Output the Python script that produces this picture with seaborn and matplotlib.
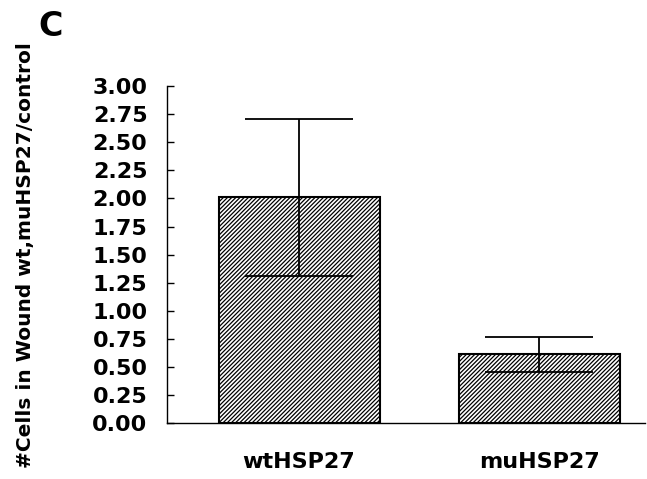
import pandas as pd
import seaborn as sns
import matplotlib.pyplot as plt

# values
groups = ['wtHSP27', 'muHSP27']
ratio = [2.01, 0.61]
err = [0.70, 0.16]

df = pd.DataFrame({'group': groups, 'ratio': ratio})

sns.set_style('ticks', {'axes.edgecolor': 'black', 'text.color': 'black',
                        'xtick.color': 'black', 'ytick.color': 'black',
                        'axes.labelcolor': 'black'})
plt.rcParams['font.family'] = ['DejaVu Sans']
plt.rcParams['font.weight'] = 'bold'
plt.rcParams['hatch.linewidth'] = 0.9

fig = plt.figure(figsize=(6.47, 4.79), dpi=100)
ax = fig.add_axes([0.258, 0.117, 0.739, 0.703])

sns.barplot(data=df, x='group', y='ratio', color='white', edgecolor='black',
            linewidth=1.5, width=0.67, errorbar=None, ax=ax)
for p in ax.patches:
    p.set_hatch('////////')

# error bars drawn from the bar centres
centers = [p.get_x() + p.get_width() / 2 for p in ax.patches]
ax.errorbar(centers, df['ratio'], yerr=err, fmt='none', ecolor='black',
            elinewidth=1.3, capsize=39, capthick=1.3)

ax.set_ylim(0, 3)
ax.set_xlim(-0.55, 1.44)
ax.set_yticks([i * 0.25 for i in range(13)])
ax.set_yticklabels([f'{i * 0.25:.2f}' for i in range(13)], fontsize=16, fontweight='bold')
ax.tick_params(axis='y', direction='in', length=5, width=1, pad=14)
ax.tick_params(axis='x', length=0, pad=21, labelsize=16)
for lab in ax.get_xticklabels():
    lab.set_fontweight('bold')
ax.set_xlabel('')
ax.set_ylabel('')
sns.despine(ax=ax)
ax.spines['left'].set_linewidth(1)
ax.spines['bottom'].set_linewidth(1)

fig.text(0.039, 0.468, '#Cells in Wound wt,muHSP27/control', rotation=90,
         ha='center', va='center', fontsize=14.5, fontweight='bold')
fig.text(0.060, 0.944, 'C', ha='left', va='center', fontsize=24, fontweight='bold')

fig.savefig('out.png', dpi=100)
